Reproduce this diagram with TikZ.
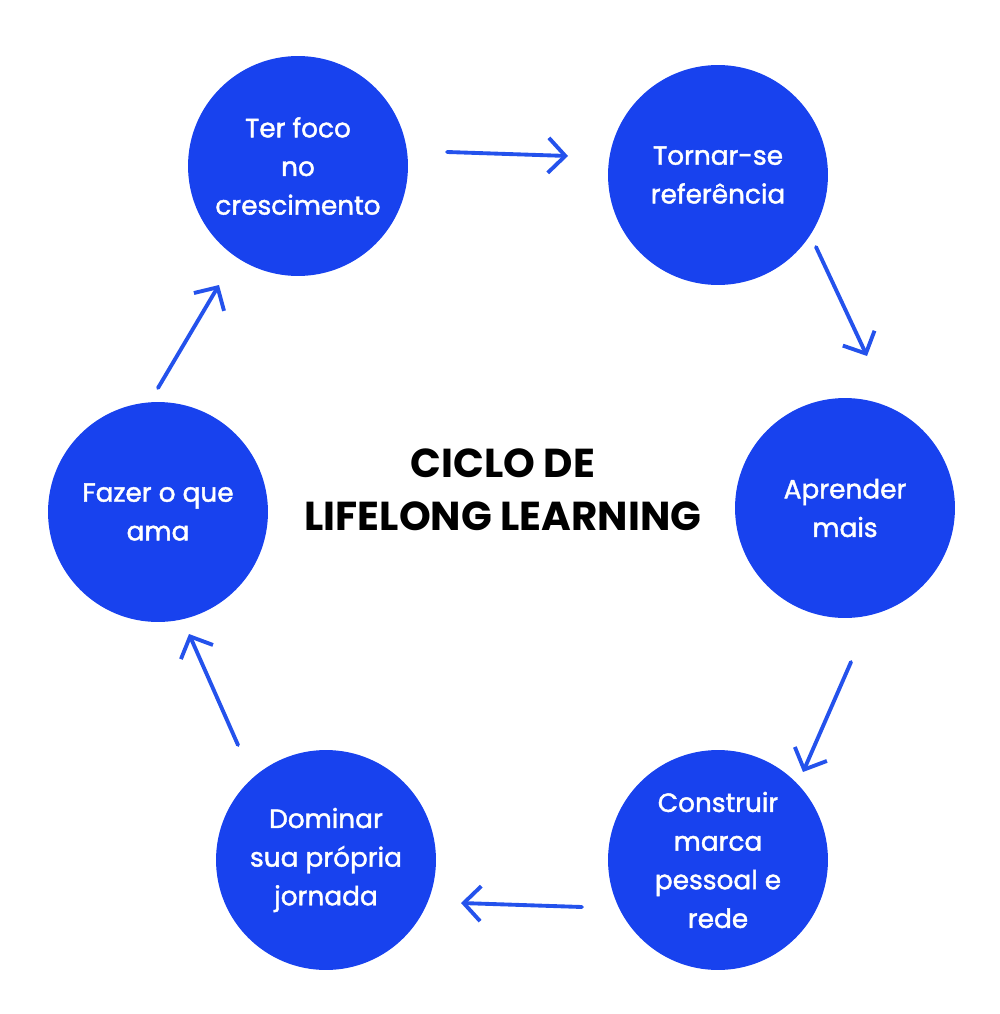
\documentclass[tikz,border=0pt]{standalone}
\usepackage{fontspec}
\setmainfont{Poppins}
\newfontfamily\stagefont{Poppins}[FakeBold=1.6]
\usetikzlibrary{arrows.meta}

\definecolor{cycblue}{RGB}{24,66,238}
\definecolor{arrblue}{RGB}{36,82,236}

\tikzset{
  stage/.style={circle, fill=cycblue, minimum size=4.4cm, inner sep=0pt,
    text=white, align=center, font=\stagefont\fontsize{15}{22}\selectfont},
  cyc/.style={arrblue, line width=2.2pt, line cap=round,
    -{Straight Barb[length=3.4mm, width=7mm, line width=2.2pt]}}
}

\begin{document}
\begin{tikzpicture}[x=0.02cm, y=-0.02cm]

  % Page
  \useasboundingbox (0,0) rectangle (1000,1014);

  % Title
  \node[align=center, font=\fontsize{23}{30}\selectfont\bfseries] (title) at (503,490)
    {CICLO DE\\LIFELONG LEARNING};

  % Stages of the cycle
  \node[stage] (foco) at (298,166) {Ter foco\\no\\crescimento};
  \node[stage] (ref)  at (718,175) {Tornar-se\\referência};
  \node[stage] (apr)  at (845,508) {Aprender\\mais};
  \node[stage] (marca) at (718,860) {Construir\\marca\\pessoal e\\rede};
  \node[stage] (jorn) at (326,860) {Dominar\\sua própria\\jornada};
  \node[stage] (ama)  at (158,512) {Fazer o que\\ama};

  % Arrow ends
  \coordinate (a1s) at (447,152); \coordinate (a1e) at (568,156);
  \coordinate (a2s) at (816,247); \coordinate (a2e) at (867,356);
  \coordinate (a3s) at (851,662); \coordinate (a3e) at (803,772);
  \coordinate (a4s) at (582,907); \coordinate (a4e) at (461,903);
  \coordinate (a5s) at (238,745); \coordinate (a5e) at (189,634);
  \coordinate (a6s) at (158,388); \coordinate (a6e) at (219,285);

  % Arrows round the cycle
  \foreach \i in {1,...,6} {
    \draw[cyc] (a\i s) -- (a\i e);
  }

\end{tikzpicture}
\end{document}
